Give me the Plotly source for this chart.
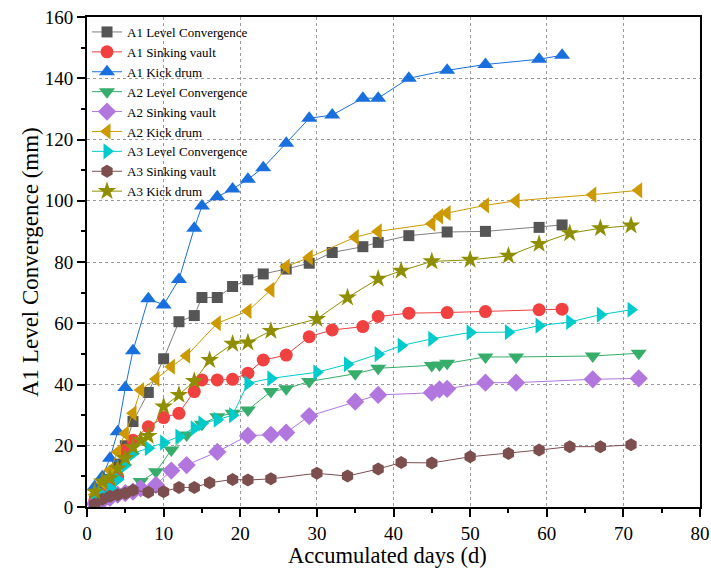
import plotly.graph_objects as go

# ---- data ----
a1_lc_days = [1, 2, 3, 4, 5, 6, 8, 10, 12, 14, 15, 17, 19, 21, 23, 26, 29, 32, 36, 38, 42, 47, 52, 59, 62]
a1_lc_vals = [2, 5, 9, 14, 20, 27.9, 37.4, 48.4, 60.5, 62.5, 68.4, 68.4, 72, 74.2, 76.1, 77.7, 79.6, 83.1, 85, 86.4, 88.6, 89.8, 90, 91.3, 92.1]

a1_sv_days = [1, 2, 3, 4, 5, 6, 8, 10, 12, 14, 15, 17, 19, 21, 23, 26, 29, 32, 36, 38, 42, 47, 52, 59, 62]
a1_sv_vals = [2, 4, 7, 9.9, 18.6, 21.8, 26.2, 29.2, 30.6, 37.7, 41.5, 41.5, 41.7, 43.7, 48, 49.6, 55.6, 57.8, 58.9, 62.2, 63.3, 63.5, 63.8, 64.4, 64.6]

a1_kd_days = [1, 2, 3, 4, 5, 6, 8, 10, 12, 14, 15, 17, 19, 21, 23, 26, 29, 32, 36, 38, 42, 47, 52, 59, 62]
a1_kd_vals = [6.6, 9.9, 15.9, 24.6, 39, 51, 68, 66, 74.3, 91, 98.3, 101.3, 103.8, 107, 110.8, 118.8, 126.9, 128, 133.5, 133.5, 140, 142.6, 144.5, 146.2, 147.5]

a2_lc_days = [1, 2, 3, 4, 5, 6, 7, 9, 11, 13, 15, 17, 19, 21, 24, 26, 29, 35, 38, 45, 46, 47, 52, 56, 66, 72]
a2_lc_vals = [0.5, 2, 3, 4, 5, 5.5, 8.3, 11.5, 18.6, 23.5, 27, 29.5, 30.6, 31.7, 37.7, 38.6, 41, 43.5, 45.3, 46.2, 46.4, 46.9, 49, 49, 49.3, 50.2]

a2_sv_days = [1, 2, 3, 4, 5, 6, 7, 9, 11, 13, 17, 21, 24, 26, 29, 35, 38, 45, 46, 47, 52, 56, 66, 72]
a2_sv_vals = [1, 2, 3, 4, 4.5, 5, 6.1, 7.2, 11.9, 13.7, 18, 23.3, 23.6, 24.3, 29.7, 34.4, 36.6, 37.3, 38.4, 38.6, 40.6, 40.6, 41.7, 42]

a2_kd_days = [1, 2, 3, 4, 5, 6, 7, 9, 11, 13, 17, 21, 24, 26, 29, 35, 38, 45, 46, 47, 52, 56, 66, 72]
a2_kd_vals = [4, 8, 12, 18, 24, 30.6, 38.2, 41.8, 45.8, 49.4, 60, 64, 70.9, 78.5, 81.5, 88.1, 90, 92.5, 94.9, 96, 98.5, 100, 102, 103.4]

a3_lc_days = [1, 2, 3, 4, 5, 6, 8, 10, 12, 14, 15, 17, 19, 21, 24, 30, 34, 38, 41, 45, 50, 55, 59, 63, 67, 71]
a3_lc_vals = [2, 4, 6.1, 9, 13.7, 17.5, 19.2, 21, 23, 25.7, 27.3, 28.5, 30, 40.4, 42, 44, 46.6, 49.9, 52.7, 54.9, 57, 57.1, 59.2, 60.4, 62.8, 64.4]

a3_sv_days = [1, 2, 3, 4, 5, 6, 8, 10, 12, 14, 16, 19, 21, 24, 30, 34, 38, 41, 45, 50, 55, 59, 63, 67, 71]
a3_sv_vals = [1, 2.5, 3.5, 4, 4.5, 5.5, 4.8, 5, 6.4, 6.4, 7.9, 9, 8.8, 9.2, 11, 10.1, 12.4, 14.5, 14.4, 16.4, 17.5, 18.6, 19.7, 19.7, 20.3]

a3_kd_days = [1, 2, 3, 4, 5, 6, 7, 8, 10, 12, 14, 16, 19, 21, 24, 30, 34, 38, 41, 45, 50, 55, 59, 63, 67, 71]
a3_kd_vals = [5, 8.3, 9.4, 12.6, 16, 19.5, 21.9, 23.2, 32.8, 36.6, 41.1, 48, 53.3, 53.7, 57.5, 61.4, 68.4, 74.5, 77.1, 80.2, 80.7, 82, 85.9, 89.4, 91, 91.9]

series = [
    ("A1 Level Convergence", a1_lc_days, a1_lc_vals, "#555555", "#7f7f7f", "square", 11),
    ("A1 Sinking vault", a1_sv_days, a1_sv_vals, "#f14040", "#f14040", "circle", 13),
    ("A1 Kick drum", a1_kd_days, a1_kd_vals, "#1a6fdf", "#1a6fdf", "triangle-up", 14),
    ("A2 Level Convergence", a2_lc_days, a2_lc_vals, "#37ad6b", "#37ad6b", "triangle-down", 14),
    ("A2 Sinking vault", a2_sv_days, a2_sv_vals, "#b177de", "#b177de", "diamond", 14),
    ("A2 Kick drum", a2_kd_days, a2_kd_vals, "#cc9900", "#cc9900", "triangle-left", 14),
    ("A3 Level Convergence", a3_lc_days, a3_lc_vals, "#00cbcc", "#00cbcc", "triangle-right", 14),
    ("A3 Sinking vault", a3_sv_days, a3_sv_vals, "#7d4e4e", "#7d4e4e", "hexagon", 13),
    ("A3 Kick drum", a3_kd_days, a3_kd_vals, "#8e8e00", "#8e8e00", "star", 14),
]

fig = go.Figure()
for name, xs, ys, mcol, lcol, sym, size in series:
    fig.add_trace(go.Scatter(
        x=xs, y=ys, name=name, mode="lines+markers",
        line=dict(color=lcol, width=1),
        marker=dict(symbol=sym, size=size, color=mcol, line=dict(width=0)),
    ))

font_family = "Liberation Serif"
fig.update_layout(
    width=711, height=569,
    margin=dict(l=87, r=11, t=17, b=62, autoexpand=False),
    paper_bgcolor="white", plot_bgcolor="white",
    font=dict(family=font_family, color="black", size=19),
    showlegend=True,
    legend=dict(
        x=0.0, y=1.0, xanchor="left", yanchor="top",
        bgcolor="rgba(0,0,0,0)", borderwidth=0,
        font=dict(family=font_family, size=13, color="black"),
        tracegroupgap=0, itemsizing="trace",
    ),
    xaxis=dict(
        range=[0, 80], dtick=10, tick0=0, automargin=False, ticklabeloverflow="allow",
        showline=True, linecolor="black", linewidth=2, mirror=True,
        ticks="outside", ticklen=8, tickwidth=2, tickcolor="black",
        minor=dict(dtick=5, ticklen=4, tickwidth=2, tickcolor="black", showgrid=False, ticks="outside"),
        showgrid=True, gridcolor="#9a9a9a", griddash="dot", gridwidth=1,
        zeroline=False,
        tickfont=dict(size=19),
    ),
    yaxis=dict(
        range=[0, 160], dtick=20, tick0=0, automargin=False, ticklabeloverflow="allow",
        showline=True, linecolor="black", linewidth=2, mirror=True,
        ticks="outside", ticklen=8, tickwidth=2, tickcolor="black",
        minor=dict(dtick=10, ticklen=4, tickwidth=2, tickcolor="black", showgrid=False, ticks="outside"),
        showgrid=True, gridcolor="#9a9a9a", griddash="dot", gridwidth=1,
        zeroline=False,
        tickfont=dict(size=19),
    ),
    annotations=[
        dict(text="Accumulated days (d)", xref="paper", yref="paper", x=0.49, y=-0.098,
             xanchor="center", yanchor="middle", showarrow=False, font=dict(size=22.5)),
        dict(text="A1 Level Convergence (mm)", xref="paper", yref="paper", x=-0.093, y=0.5,
             xanchor="center", yanchor="middle", textangle=-90, showarrow=False, font=dict(size=23)),
    ],
)

# remove the page's default 8px body margin so the figure sits at the window origin
fig.write_html("out.html", config={"displayModeBar": False},
               post_script="document.body.style.margin='0';")
